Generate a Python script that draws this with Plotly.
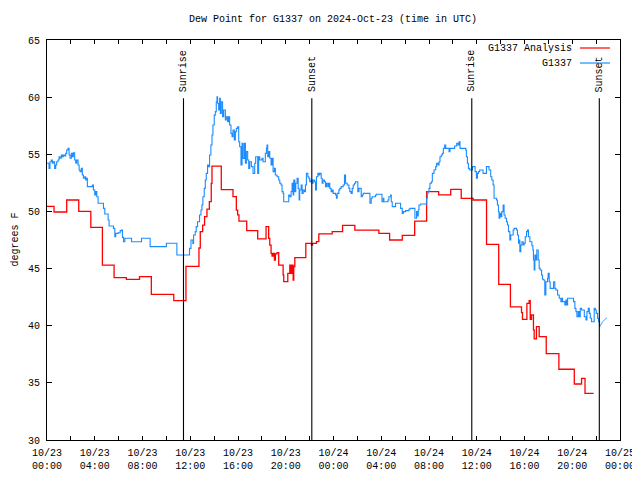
import pandas as pd
import plotly.graph_objects as go

BASE = pd.Timestamp("2024-10-23 00:00")
TITLE = "Dew Point for G1337 on 2024-Oct-23 (time in UTC)"
Y_LABEL = "degrees F"

# G1337 Analysis (hours since 10/23 00:00 UTC, deg F)
red_hours = [0.0, 0.59, 1.65, 2.66, 3.67, 4.64, 5.62, 6.65, 7.75, 8.74, 10.62, 11.64, 12.73, 12.84, 13.04,
             13.2, 13.4, 13.6, 13.76, 13.82, 14.6, 15.58, 15.86, 15.97, 16.08, 16.73, 17.65, 18.35, 18.57,
             18.66, 18.77, 18.85, 18.94, 19.05, 19.13, 19.27, 19.41, 19.78, 19.83, 20.17, 20.34, 20.45, 20.53,
             20.62, 20.67, 20.76, 21.68, 22.15, 22.24, 22.57, 22.77, 23.89, 24.76, 25.79, 27.8, 28.7, 29.76,
             30.8, 31.8, 32.81, 33.82, 34.7, 35.69, 36.82, 37.84, 38.82, 39.75, 39.83, 40.2, 40.39, 40.48,
             40.59, 40.75, 40.81, 41.0, 41.15, 41.23, 41.82, 42.88, 44.17, 44.78, 45.07, 45.79]
red_vals = [50.45, 49.95, 51.0, 50.0, 48.6, 45.3, 44.2, 44.05, 44.3, 42.75, 42.2, 45.2, 46.8, 48.23, 48.81,
            49.54, 50.21, 50.85, 52.46, 53.97, 51.9, 51.29, 50.12, 49.69, 49.16, 48.32, 47.59, 48.67, 47.65,
            47.06, 46.33, 46.1, 46.33, 45.75, 46.28, 46.39, 45.31, 44.44, 43.86, 44.58, 45.31, 44.58, 45.31,
            44.0, 45.17, 45.95, 47.21, 47.06, 47.21, 47.35, 48.03, 48.23, 48.78, 48.37, 48.08, 47.5, 47.91,
            49.16, 51.73, 51.44, 51.93, 51.15, 51.0, 47.12, 43.62, 41.65, 41.14, 40.56, 41.96, 42.19, 40.56,
            40.94, 39.63, 38.85, 39.92, 39.92, 39.04, 37.55, 36.19, 34.9, 35.4, 34.08, 34.08]

# G1337 observations
blue_hours = [0.0, 0.17, 0.25, 0.36, 0.45, 0.53, 0.64, 0.73, 0.81, 0.92, 1.01, 1.09, 1.2, 1.29, 1.37, 1.48,
              1.57, 1.65, 1.76, 1.85, 1.93, 2.04, 2.13, 2.21, 2.32, 2.41, 2.49, 2.6, 2.69, 2.77, 2.88, 2.96,
              3.05, 3.16, 3.24, 3.33, 3.38, 3.8, 3.89, 4.0, 4.08, 4.17, 4.28, 4.73, 4.84, 5.12, 5.2, 5.57,
              5.68, 5.76, 5.96, 6.13, 6.24, 6.32, 6.41, 6.52, 7.08, 7.92, 8.64, 10.0, 10.88, 11.94, 12.06,
              12.22, 12.28, 12.42, 12.5, 12.61, 12.78, 12.9, 12.98, 13.06, 13.17, 13.26, 13.34, 13.45, 13.54,
              13.62, 13.73, 13.82, 13.9, 14.01, 14.1, 14.18, 14.24, 14.29, 14.38, 14.46, 14.52, 14.6, 14.71,
              14.8, 14.94, 15.02, 15.13, 15.22, 15.3, 15.41, 15.5, 15.58, 15.69, 15.78, 15.86, 15.97, 16.06,
              16.14, 16.25, 16.34, 16.42, 16.53, 16.62, 16.7, 16.81, 16.9, 16.98, 17.12, 17.26, 17.4, 17.48,
              17.65, 17.73, 17.82, 18.01, 18.1, 18.29, 18.38, 18.43, 18.49, 18.57, 18.66, 18.77, 18.85, 18.94,
              19.05, 19.13, 19.27, 19.41, 19.5, 19.61, 19.69, 19.78, 19.83, 20.25, 20.34, 20.45, 20.53, 20.62,
              20.67, 20.76, 20.84, 20.95, 21.04, 21.12, 21.17, 21.29, 21.37, 21.46, 21.57, 21.65, 21.73, 21.85,
              21.93, 22.01, 22.13, 22.21, 22.29, 22.41, 22.49, 22.57, 22.69, 22.77, 22.85, 22.97, 23.05, 23.13,
              23.25, 23.33, 23.41, 23.52, 23.61, 23.69, 23.8, 23.89, 23.97, 24.17, 24.25, 24.31, 24.45, 24.53,
              24.64, 24.81, 24.92, 25.01, 25.15, 25.29, 25.37, 25.48, 25.57, 25.65, 25.76, 25.85, 26.04, 26.13,
              26.32, 26.41, 26.49, 27.05, 27.16, 27.24, 27.52, 27.61, 28.06, 28.17, 28.22, 28.56, 28.64, 28.78,
              28.84, 28.92, 29.2, 29.62, 29.76, 29.85, 30.04, 30.32, 30.41, 30.82, 30.96, 31.02, 31.1, 31.16,
              31.3, 31.8, 31.86, 31.92, 32.0, 32.08, 32.2, 32.28, 32.42, 32.56, 32.64, 32.75, 32.84, 32.92,
              33.03, 33.12, 33.2, 33.31, 33.4, 33.68, 33.76, 34.15, 34.32, 34.43, 34.52, 34.6, 35.08, 35.13,
              35.22, 35.3, 35.41, 35.64, 35.86, 35.97, 36.06, 36.14, 36.25, 36.53, 36.81, 37.03, 37.17, 37.26,
              37.37, 37.45, 37.65, 37.73, 37.82, 37.87, 37.93, 38.01, 38.1, 38.21, 38.29, 38.38, 38.49, 38.57,
              38.66, 38.77, 38.85, 39.05, 39.13, 39.33, 39.41, 39.5, 39.55, 39.61, 39.69, 39.78, 39.89, 39.97,
              40.06, 40.17, 40.25, 40.33, 40.45, 40.62, 40.7, 40.75, 40.81, 40.87, 40.95, 41.03, 41.15, 41.23,
              41.31, 41.43, 41.51, 41.59, 41.7, 41.79, 41.93, 41.98, 42.07, 42.15, 42.43, 42.54, 42.63, 42.77,
              42.91, 43.05, 43.1, 43.19, 43.38, 43.47, 43.55, 43.61, 44.11, 44.22, 44.31, 44.39, 44.5, 44.59,
              44.67, 44.78, 45.01, 45.15, 45.23, 45.34, 45.43, 45.51, 45.62, 45.84, 45.93, 46.01, 46.12, 46.21,
              46.29]
blue_vals = [54.21, 53.77, 54.35, 54.5, 54.21, 54.35, 53.77, 54.06, 54.35, 54.5, 54.79, 54.65, 54.94, 54.79,
             54.94, 54.85, 55.08, 55.38, 55.52, 54.94, 54.65, 55.08, 54.79, 55.14, 54.5, 54.21, 54.5, 54.06,
             53.63, 53.48, 53.77, 53.19, 52.9, 53.04, 52.75, 52.9, 52.17, 52.31, 51.88, 51.44, 51.73, 51.29,
             50.71, 50.27, 49.78, 49.25, 48.73, 48.52, 47.79, 48.08, 48.14, 48.32, 48.38, 47.73, 47.35, 47.65,
             47.35, 47.65, 46.92, 47.21, 46.19, 46.77, 47.5, 47.2, 47.94, 48.23, 48.67, 49.1, 49.69, 50.12,
             50.56, 51.29, 52.02, 52.75, 53.33, 54.06, 53.91, 54.94, 55.81, 56.69, 57.56, 58.43, 58.73, 59.6,
             60.04, 59.46, 58.87, 59.9, 58.58, 59.6, 58.29, 58.87, 58.0, 58.29, 57.85, 58.29, 57.56, 56.83,
             56.54, 57.12, 56.25, 56.98, 57.27, 57.41, 56.1, 55.66, 54.06, 55.96, 54.64, 55.96, 54.21, 55.23,
             54.5, 53.77, 54.35, 53.92, 53.33, 54.21, 54.79, 53.33, 54.79, 54.5, 54.65, 54.35, 55.08, 55.52,
             55.81, 54.79, 55.23, 54.65, 54.06, 54.65, 53.48, 53.77, 53.19, 53.04, 52.75, 52.46, 52.31, 51.73,
             51.58, 50.85, 51.44, 51.29, 51.73, 52.46, 51.44, 52.75, 51.73, 52.46, 52.9, 52.02, 51.0, 51.88,
             52.31, 51.58, 51.88, 51.73, 52.31, 53.33, 53.04, 52.9, 52.6, 52.75, 52.46, 52.75, 52.6, 51.88,
             53.04, 53.33, 53.19, 53.33, 52.9, 52.46, 52.75, 52.6, 52.17, 52.46, 52.17, 52.46, 52.02, 51.73,
             51.88, 51.58, 51.44, 51.15, 51.58, 51.88, 52.02, 52.17, 52.31, 53.19, 52.46, 52.31, 52.02, 51.73,
             51.58, 52.02, 52.31, 52.46, 52.6, 51.73, 52.02, 51.29, 51.44, 51.58, 50.71, 51.15, 51.29, 51.44,
             51.5, 50.85, 51.15, 50.85, 51.0, 51.29, 51.44, 50.85, 50.42, 50.71, 50.27, 49.83, 49.98, 50.07,
             50.19, 50.27, 49.4, 49.98, 49.6, 50.12, 50.56, 50.65, 51.15, 51.58, 51.73, 52.02, 52.46, 52.6,
             53.33, 53.63, 53.92, 54.21, 54.06, 54.35, 54.79, 54.94, 55.08, 55.52, 55.81, 55.52, 55.23, 55.52,
             55.72, 55.96, 55.81, 56.1, 55.52, 55.38, 54.79, 54.21, 53.77, 53.63, 53.92, 53.48, 52.9, 53.33,
             53.48, 53.63, 53.33, 53.92, 53.63, 53.04, 52.75, 52.31, 51.15, 51.0, 50.56, 49.98, 49.4, 49.83,
             49.54, 49.98, 50.56, 49.69, 49.4, 49.1, 48.81, 48.23, 47.5, 47.94, 48.37, 48.52, 48.37, 47.94,
             47.21, 47.5, 46.48, 47.06, 47.35, 47.06, 47.21, 47.79, 48.23, 48.37, 47.79, 47.35, 47.0, 46.63,
             45.75, 44.88, 46.19, 45.75, 46.63, 45.75, 45.02, 44.88, 44.44, 44.06, 44.0, 42.69, 43.85, 44.15,
             44.58, 43.85, 43.27, 43.85, 43.27, 43.13, 42.69, 42.4, 42.11, 42.4, 42.11, 41.81, 42.25, 41.81,
             42.4, 42.11, 41.52, 41.23, 40.79, 41.23, 40.79, 41.52, 41.38, 40.79, 40.5, 41.23, 41.52, 41.08,
             40.65, 40.35, 41.52, 41.38, 41.08, 40.65, 40.35, 39.92]
blue_tail_hours = [46.29, 46.4, 46.54, 46.68, 46.91]
blue_tail_vals = [39.92, 40.06, 40.35, 40.5, 40.7]

sun_events = ["Sunrise", "Sunset", "Sunrise", "Sunset"]
sun_times = ["2024-10-23 11:26", "2024-10-23 22:11", "2024-10-24 11:35", "2024-10-24 22:16"]
sun_line_top = 59.9
sun_label_y = [62.3, 62.0, 62.3, 62.0]

legend_names = ["G1337 Analysis", "G1337"]
RED = "#ff0000"
BLUE = "#1a8cff"
FONT = "Liberation Mono"


def to_time(hours):
    return [BASE + pd.Timedelta(hours=h) for h in hours]


fig = go.Figure()
fig.add_trace(go.Scatter(x=to_time(red_hours), y=red_vals, mode="lines", line=dict(color=RED, width=1.3, shape="hv"),
                         name=legend_names[0], showlegend=False))
fig.add_trace(go.Scatter(x=to_time(blue_hours), y=blue_vals, mode="lines", line=dict(color=BLUE, width=1.1, shape="hv"),
                         name=legend_names[1], showlegend=False))
fig.add_trace(go.Scatter(x=to_time(blue_tail_hours), y=blue_tail_vals, mode="lines", line=dict(color=BLUE, width=0.8),
                         showlegend=False, hoverinfo="skip"))

for ev, t, ly in zip(sun_events, sun_times, sun_label_y):
    fig.add_shape(type="line", xref="x", yref="y", x0=t, x1=t, y0=30, y1=sun_line_top,
                  line=dict(color="black", width=1.1))
    fig.add_annotation(x=t, y=ly, xref="x", yref="y", text=ev, textangle=-90, showarrow=False,
                       font=dict(family=FONT, size=10, color="black"))

# manual legend (key to the right of the text, gnuplot style)
leg_y = [0.98, 0.9425]
leg_col = [RED, BLUE]
for name, yy, col in zip(legend_names, leg_y, leg_col):
    fig.add_annotation(x=0.9197, y=yy, xref="paper", yref="paper", text=name, showarrow=False,
                       xanchor="right", yanchor="middle", font=dict(family=FONT, size=10, color="black"))
    fig.add_shape(type="line", xref="paper", yref="paper", x0=0.930, x1=0.9825, y0=yy, y1=yy,
                  line=dict(color=col, width=1.2))

# title and y-axis label as free text
fig.add_annotation(x=0.4991, y=1.05, xref="paper", yref="paper", text=TITLE, showarrow=False,
                   xanchor="center", yanchor="middle", font=dict(family=FONT, size=10, color="black"))
fig.add_annotation(x=-0.0567, y=0.5, xref="paper", yref="paper", text=Y_LABEL, showarrow=False,
                   textangle=-90, xanchor="center", yanchor="middle",
                   font=dict(family=FONT, size=10, color="black"))

# the page body adds an 8px offset, so the figure is sized to fit the window
fig.update_layout(
    width=632, height=472,
    margin=dict(l=39, r=20, t=32, b=40, autoexpand=False),
    paper_bgcolor="white", plot_bgcolor="white",
    showlegend=False,
    font=dict(family=FONT, size=10, color="black"),
)
fig.update_xaxes(
    type="date", range=[BASE, BASE + pd.Timedelta(hours=48)], automargin=False,
    tick0=BASE, dtick=4 * 3600000, tickformat="%m/%d<br>%H:%M",
    ticks="inside", ticklen=4, tickcolor="black", tickwidth=1,
    minor=dict(dtick=2 * 3600000, ticks="inside", ticklen=4, tickcolor="black"),
    showline=True, linecolor="black", linewidth=1, mirror="allticks",
    showgrid=False, zeroline=False, ticklabelstandoff=3,
    tickfont=dict(family=FONT, size=10, color="black"),
)
fig.update_yaxes(
    range=[30, 65], tick0=30, dtick=5, automargin=False,
    ticks="inside", ticklen=5, tickcolor="black", tickwidth=1,
    showline=True, linecolor="black", linewidth=1, mirror="allticks",
    showgrid=False, zeroline=False, ticklabelstandoff=4,
    tickfont=dict(family=FONT, size=10, color="black"),
)

fig.write_html("out.html")
